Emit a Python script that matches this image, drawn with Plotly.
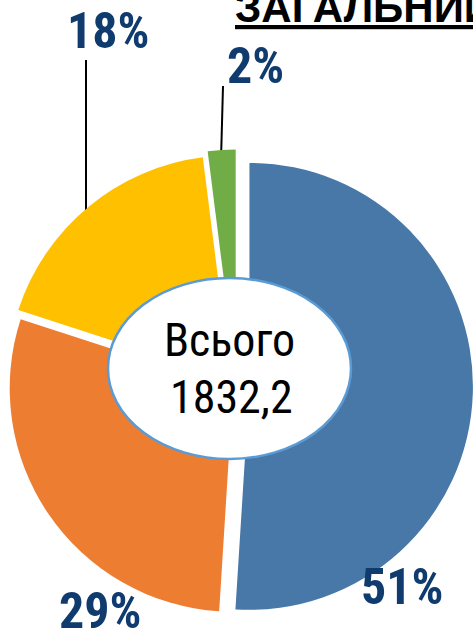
import plotly.graph_objects as go

# ---- data ----
categories = ["Категорія 1", "Категорія 2", "Категорія 3", "Категорія 4"]
shares = [51, 29, 18, 2]          # % of total
total_label = "Всього"
total_value = "1832,2"
title_text = "ЗАГАЛЬНИЙ ОБСЯГ"

colors = ["#4878A8", "#ED7D31", "#FFC000", "#70AD47"]
pulls = [0.058, 0.018, 0.04, 0.058]

W, H = 473, 639
NAVY = "#0F3B6E"
NARROW = "Liberation Sans Narrow, Arial Narrow, Roboto Condensed, sans-serif"

fig = go.Figure()
fig.add_trace(go.Pie(
    labels=categories,
    values=shares,
    sort=False,
    direction="clockwise",
    rotation=0,
    pull=pulls,
    marker=dict(colors=colors, line=dict(width=0)),
    textinfo="none",
    hoverinfo="skip",
    domain=dict(x=[0, 1], y=[0.026, 0.766]),
    showlegend=False,
))

def px(x):
    return x / W

def py(y):
    return 1 - y / H

# leader lines (under the slices)
fig.add_shape(type="line", xref="paper", yref="paper", layer="below",
              x0=px(86), x1=px(86), y0=py(60), y1=py(215),
              line=dict(color="black", width=2))
fig.add_shape(type="line", xref="paper", yref="paper", layer="below",
              x0=px(223), x1=px(221), y0=py(86), y1=py(160),
              line=dict(color="black", width=2))

# centre ellipse
fig.add_shape(type="circle", xref="paper", yref="paper", layer="above",
              x0=px(108), x1=px(351), y0=py(459), y1=py(278),
              fillcolor="white", line=dict(color="#5B9BD5", width=2.5))

# percentage labels
label_pos = [(402, 587), (100, 611), (108, 31), (255, 66)]
for v, (x, y) in zip(shares, label_pos):
    fig.add_annotation(x=px(x), y=py(y), xref="paper", yref="paper",
                       text=f"<b>{v}%</b>", showarrow=False,
                       xanchor="center", yanchor="middle",
                       font=dict(family=NARROW, size=50, color=NAVY))

# centre text
fig.add_annotation(x=px(229), y=py(340), xref="paper", yref="paper",
                   text=total_label, showarrow=False,
                   xanchor="center", yanchor="middle",
                   font=dict(family=NARROW, size=46, color="black"))
fig.add_annotation(x=px(231), y=py(397), xref="paper", yref="paper",
                   text=total_value, showarrow=False,
                   xanchor="center", yanchor="middle",
                   font=dict(family=NARROW, size=46, color="black"))

# title (cut off at top, as in the source)
fig.add_annotation(x=px(233), y=py(33), xref="paper", yref="paper",
                   text=f"<b><u>{title_text}</u></b>", showarrow=False,
                   xanchor="left", yanchor="bottom",
                   font=dict(family="Liberation Sans, Arial, sans-serif", size=42, color="black"))

fig.update_layout(
    width=W, height=H,
    margin=dict(l=0, r=0, t=0, b=0),
    paper_bgcolor="white",
    plot_bgcolor="white",
    showlegend=False,
)

fig.write_html("out.html")
